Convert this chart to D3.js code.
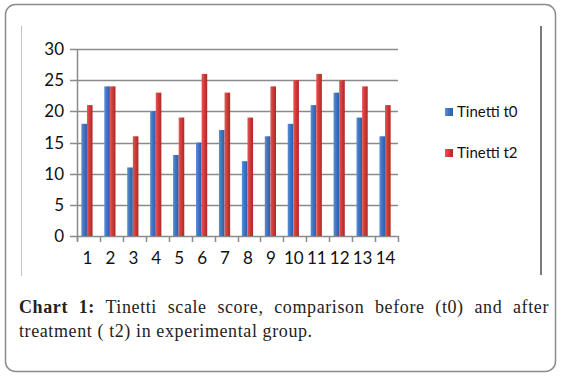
<!DOCTYPE html>
<html>
<head>
<meta charset="UTF-8">
<script src="https://d3js.org/d3.v7.min.js"></script>
<style>
  body { margin: 0; background: #fff; }
  #wrap { position: relative; width: 561px; height: 377px; }
  .caption {
    position: absolute; left: 19px; top: 295px; width: 530px;
    font-family: "Liberation Serif", "DejaVu Serif", serif;
    font-size: 18px; line-height: 24px; color: #222; letter-spacing: 0.6px;
  }
  .caption .l1 { text-align: justify; text-align-last: justify; }
</style>
</head>
<body>
<div id="wrap">
  <div id="chart"></div>
  <div class="caption">
    <div class="l1"><b>Chart 1:</b> Tinetti scale score, comparison before (t0) and after</div>
    <div>treatment ( t2) in experimental group.</div>
  </div>
</div>
<script>
const categories = ["1","2","3","4","5","6","7","8","9","10","11","12","13","14"];
const t0 = [18, 24, 11, 20, 13, 15, 17, 12, 16, 18, 21, 23, 19, 16];
const t2 = [21, 24, 16, 23, 19, 26, 23, 19, 24, 25, 26, 25, 24, 21];
const seriesNames = ["Tinetti t0", "Tinetti t2"];
const yTicks = [0, 5, 10, 15, 20, 25, 30];

const svg = d3.select("#chart").append("svg")
  .attr("width", 561).attr("height", 377)
  .style("position", "absolute").style("left", 0).style("top", 0);

// gradients for the shaded bars
const defs = svg.append("defs");
const grads = [
  { id: "gBlue", stops: ["#5b8fd6", "#3f74c2", "#2c5ea8"] },
  { id: "gRed", stops: ["#e35a58", "#d13b39", "#a92a28"] }
];
grads.forEach(g => {
  const lg = defs.append("linearGradient").attr("id", g.id)
    .attr("x1", "0%").attr("x2", "100%").attr("y1", "0%").attr("y2", "0%");
  lg.append("stop").attr("offset", "0%").attr("stop-color", g.stops[0]);
  lg.append("stop").attr("offset", "45%").attr("stop-color", g.stops[1]);
  lg.append("stop").attr("offset", "100%").attr("stop-color", g.stops[2]);
});

// outer border
svg.append("rect").attr("x", 5.5).attr("y", 4.5).attr("width", 550).attr("height", 367)
  .attr("rx", 10).attr("fill", "none").attr("stroke", "#8c8c8c").attr("stroke-width", 1.5);

// chart frame sides
svg.append("line").attr("x1", 21.5).attr("x2", 21.5).attr("y1", 26).attr("y2", 276)
  .attr("stroke", "#c4c4c4").attr("stroke-width", 1);
svg.append("line").attr("x1", 541).attr("x2", 541).attr("y1", 26).attr("y2", 275)
  .attr("stroke", "#7a7a7a").attr("stroke-width", 2);

const plot = { left: 77, right: 398, top: 49, bottom: 236 };

const x = d3.scaleBand().domain(categories).range([plot.left, plot.right]).padding(0);
const y = d3.scaleLinear().domain([0, 30]).range([plot.bottom, plot.top]);

// gridlines
svg.append("g").selectAll("line").data(yTicks).join("line")
  .attr("x1", plot.left - 7).attr("x2", plot.right)
  .attr("y1", d => Math.round(y(d)) + 0.5).attr("y2", d => Math.round(y(d)) + 0.5)
  .attr("stroke", "#8a8a8a").attr("stroke-width", 1.5);

// y axis line
svg.append("line").attr("x1", plot.left + 0.5).attr("x2", plot.left + 0.5)
  .attr("y1", plot.top).attr("y2", plot.bottom + 5)
  .attr("stroke", "#8a8a8a").attr("stroke-width", 1.5);

// x tick marks
const edges = categories.map(c => x(c)).concat([plot.right]);
svg.append("g").selectAll("line").data(edges).join("line")
  .attr("x1", d => Math.round(d) + 0.5).attr("x2", d => Math.round(d) + 0.5)
  .attr("y1", plot.bottom).attr("y2", plot.bottom + 6)
  .attr("stroke", "#8a8a8a").attr("stroke-width", 1.5);

// y labels
svg.append("g").selectAll("text").data(yTicks).join("text")
  .attr("x", 64).attr("y", d => y(d) + 6)
  .attr("text-anchor", "end")
  .attr("font-family", "Lato, 'Open Sans', sans-serif").attr("font-size", 17)
  .attr("fill", "#111").text(d => d);

// x labels
svg.append("g").selectAll("text").data(categories).join("text")
  .attr("x", d => x(d) + x.bandwidth() / 2 - 1).attr("y", 264)
  .attr("text-anchor", "middle")
  .attr("font-family", "Lato, 'Open Sans', sans-serif").attr("font-size", 17)
  .attr("fill", "#111").text(d => d);

// bars
const barW = 5.6;
const sub = d3.scaleBand().domain([0, 1]).range([0, barW * 2]);
const series = [t0, t2];
const fills = ["url(#gBlue)", "url(#gRed)"];
series.forEach((vals, si) => {
  svg.append("g").selectAll("rect").data(vals).join("rect")
    .attr("x", (d, i) => x(categories[i]) + (x.bandwidth() - barW * 2) / 2 - 1.5 + sub(si))
    .attr("y", d => y(d))
    .attr("width", sub.bandwidth())
    .attr("height", d => y(0) - y(d))
    .attr("fill", fills[si]);
});

// legend
const legendY = [112, 153];
seriesNames.forEach((name, i) => {
  svg.append("rect").attr("x", 445).attr("y", legendY[i] - 4).attr("width", 8).attr("height", 8)
    .attr("fill", fills[i]);
  svg.append("text").attr("x", 457).attr("y", legendY[i] + 5)
    .attr("font-family", "Lato, 'Open Sans', sans-serif").attr("font-size", 15)
    .attr("fill", "#111").text(name);
});
</script>
</body>
</html>
